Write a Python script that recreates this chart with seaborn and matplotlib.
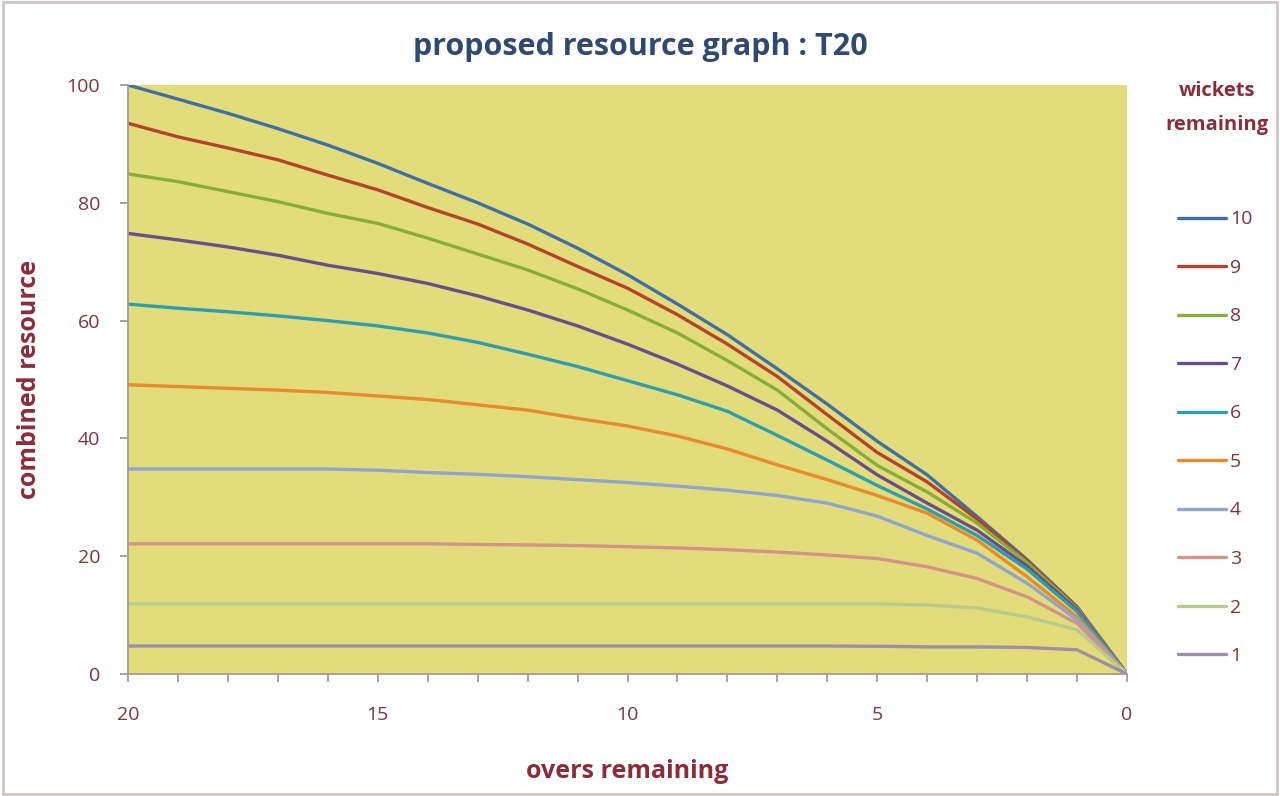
import numpy as np
import pandas as pd
import matplotlib.pyplot as plt
import matplotlib.patches as mpatches
import seaborn as sns

# ---------------------------------------------------------------------------
# Data: combined resource (%) by overs remaining
# ---------------------------------------------------------------------------
overs = [20, 19, 18, 17, 16, 15, 14, 13, 12, 11, 10,
         9, 8, 7, 6, 5, 4, 3, 2, 1, 0]

w10 = [100.0, 97.6, 95.2, 92.6, 89.8, 86.7, 83.3, 80.0, 76.4, 72.3, 67.8,
       62.8, 57.6, 51.8, 45.8, 39.5, 33.8, 26.7, 19.4, 11.4, 0.0]
w9 = [93.5, 91.2, 89.3, 87.3, 84.7, 82.2, 79.2, 76.4, 73.0, 69.2, 65.5,
      61.0, 56.0, 50.5, 44.0, 37.6, 32.6, 26.3, 19.2, 11.3, 0.0]
w8 = [84.9, 83.6, 81.9, 80.2, 78.2, 76.5, 74.0, 71.3, 68.6, 65.4, 61.8,
      57.9, 53.2, 48.2, 41.6, 35.4, 30.9, 25.6, 18.9, 11.1, 0.0]
w7 = [74.8, 73.7, 72.5, 71.1, 69.4, 68.0, 66.3, 64.2, 61.8, 59.1, 56.0,
      52.6, 48.9, 44.8, 39.5, 33.8, 29.0, 24.4, 18.3, 10.9, 0.0]
w6 = [62.8, 62.1, 61.5, 60.8, 60.0, 59.1, 57.9, 56.3, 54.3, 52.2, 49.8,
      47.4, 44.6, 40.5, 36.3, 32.0, 28.0, 23.5, 17.8, 10.6, 0.0]
w5 = [49.1, 48.8, 48.5, 48.2, 47.8, 47.2, 46.6, 45.7, 44.8, 43.4, 42.1,
      40.4, 38.2, 35.5, 33.0, 30.3, 27.3, 22.7, 16.5, 9.7, 0.0]
w4 = [34.8, 34.8, 34.8, 34.8, 34.8, 34.6, 34.2, 33.9, 33.5, 33.0, 32.5,
      31.9, 31.2, 30.3, 29.0, 26.8, 23.5, 20.5, 15.4, 9.2, 0.0]
w3 = [22.1, 22.1, 22.1, 22.1, 22.1, 22.1, 22.1, 22.0, 21.9, 21.8, 21.6,
      21.4, 21.1, 20.7, 20.2, 19.6, 18.2, 16.2, 13.1, 8.6, 0.0]
w2 = [11.9, 11.9, 11.9, 11.9, 11.9, 11.9, 11.9, 11.9, 11.9, 11.9, 11.9,
      11.9, 11.9, 11.9, 11.9, 11.9, 11.7, 11.2, 9.7, 7.5, 0.0]
w1 = [4.75, 4.75, 4.75, 4.75, 4.75, 4.75, 4.75, 4.75, 4.75, 4.75, 4.75,
      4.75, 4.75, 4.75, 4.75, 4.7, 4.6, 4.6, 4.5, 4.1, 0.0]

wickets = [10, 9, 8, 7, 6, 5, 4, 3, 2, 1]
series = [w10, w9, w8, w7, w6, w5, w4, w3, w2, w1]

line_colors = ["#3F6FA6", "#B5432C", "#86AD3C", "#6A4E8C", "#2E9DAF",
               "#E98A2C", "#8EA6CF", "#D4928A", "#B5CC8E", "#9C8FA8"]

BG_PLOT = "#E2DC7A"
MAROON = "#7E3440"
LABEL_RED = "#8B2C3A"
TITLE_BLUE = "#2F4A6E"


def main():
    rows = []
    for w, vals in zip(wickets, series):
        for o, v in zip(overs, vals):
            rows.append({"overs": o, "resource": v, "wickets": str(w)})
    df = pd.DataFrame(rows)

    sns.set_style("ticks")
    plt.rcParams["font.family"] = ["Open Sans", "DejaVu Sans"]

    fig = plt.figure(figsize=(12.8, 7.96), dpi=100)
    ax = fig.add_axes([0.1, 0.1533, 0.7805, 0.7399])

    order = [str(w) for w in wickets]
    sns.lineplot(data=df, x="overs", y="resource", hue="wickets",
                 hue_order=order, palette=line_colors, linewidth=2.4,
                 ax=ax, legend=True)

    ax.set_facecolor(BG_PLOT)
    ax.set_xlim(20, 0)
    ax.set_ylim(0, 100)
    ax.set_xticks([20, 15, 10, 5, 0])
    ax.set_xticks(range(0, 21), minor=True)
    ax.set_yticks([0, 20, 40, 60, 80, 100])

    for side in ("top", "right"):
        ax.spines[side].set_visible(False)
    for side in ("left", "bottom"):
        ax.spines[side].set_color("#A89C8C")
        ax.spines[side].set_linewidth(1.3)

    ax.tick_params(axis="x", which="both", direction="out", length=6,
                   width=1.1, color="#8C8C8C", labelsize=14,
                   labelcolor=MAROON, pad=17)
    ax.tick_params(axis="y", which="major", direction="out", length=6,
                   width=1.1, color="#8C8C8C", labelsize=14,
                   labelcolor=MAROON, pad=14)

    ax.set_xlabel("overs remaining", fontsize=18, fontweight="bold",
                  color=LABEL_RED, labelpad=25)
    ax.set_ylabel("combined resource", fontsize=18, fontweight="bold",
                  color=LABEL_RED, labelpad=18)

    fig.text(0.5, 0.941, "proposed resource graph : T20", ha="center",
             va="center", fontsize=22, fontweight="bold", color=TITLE_BLUE)

    # legend on the right, title placed separately well above the entries
    handles, labels = ax.get_legend_handles_labels()
    ax.legend(handles, labels, loc="upper left",
              bbox_to_anchor=(0.913, 0.748), bbox_transform=fig.transFigure,
              frameon=False, fontsize=14, labelspacing=1.57,
              handlelength=2.45, handletextpad=0.2, borderpad=0,
              labelcolor=MAROON)
    for txt, yy in (("wickets", 0.886), ("remaining", 0.843)):
        fig.text(0.951, yy, txt, ha="center", va="center",
                 fontsize=14.5, fontweight="bold", color=LABEL_RED)

    # thin frame round the chart
    fig.patches.append(mpatches.Rectangle((0.002, 0.003), 0.996, 0.994,
                                          transform=fig.transFigure,
                                          fill=False, edgecolor="#CFC6C6",
                                          linewidth=2))

    fig.savefig("out.png", dpi=100, facecolor="white")


if __name__ == "__main__":
    main()
